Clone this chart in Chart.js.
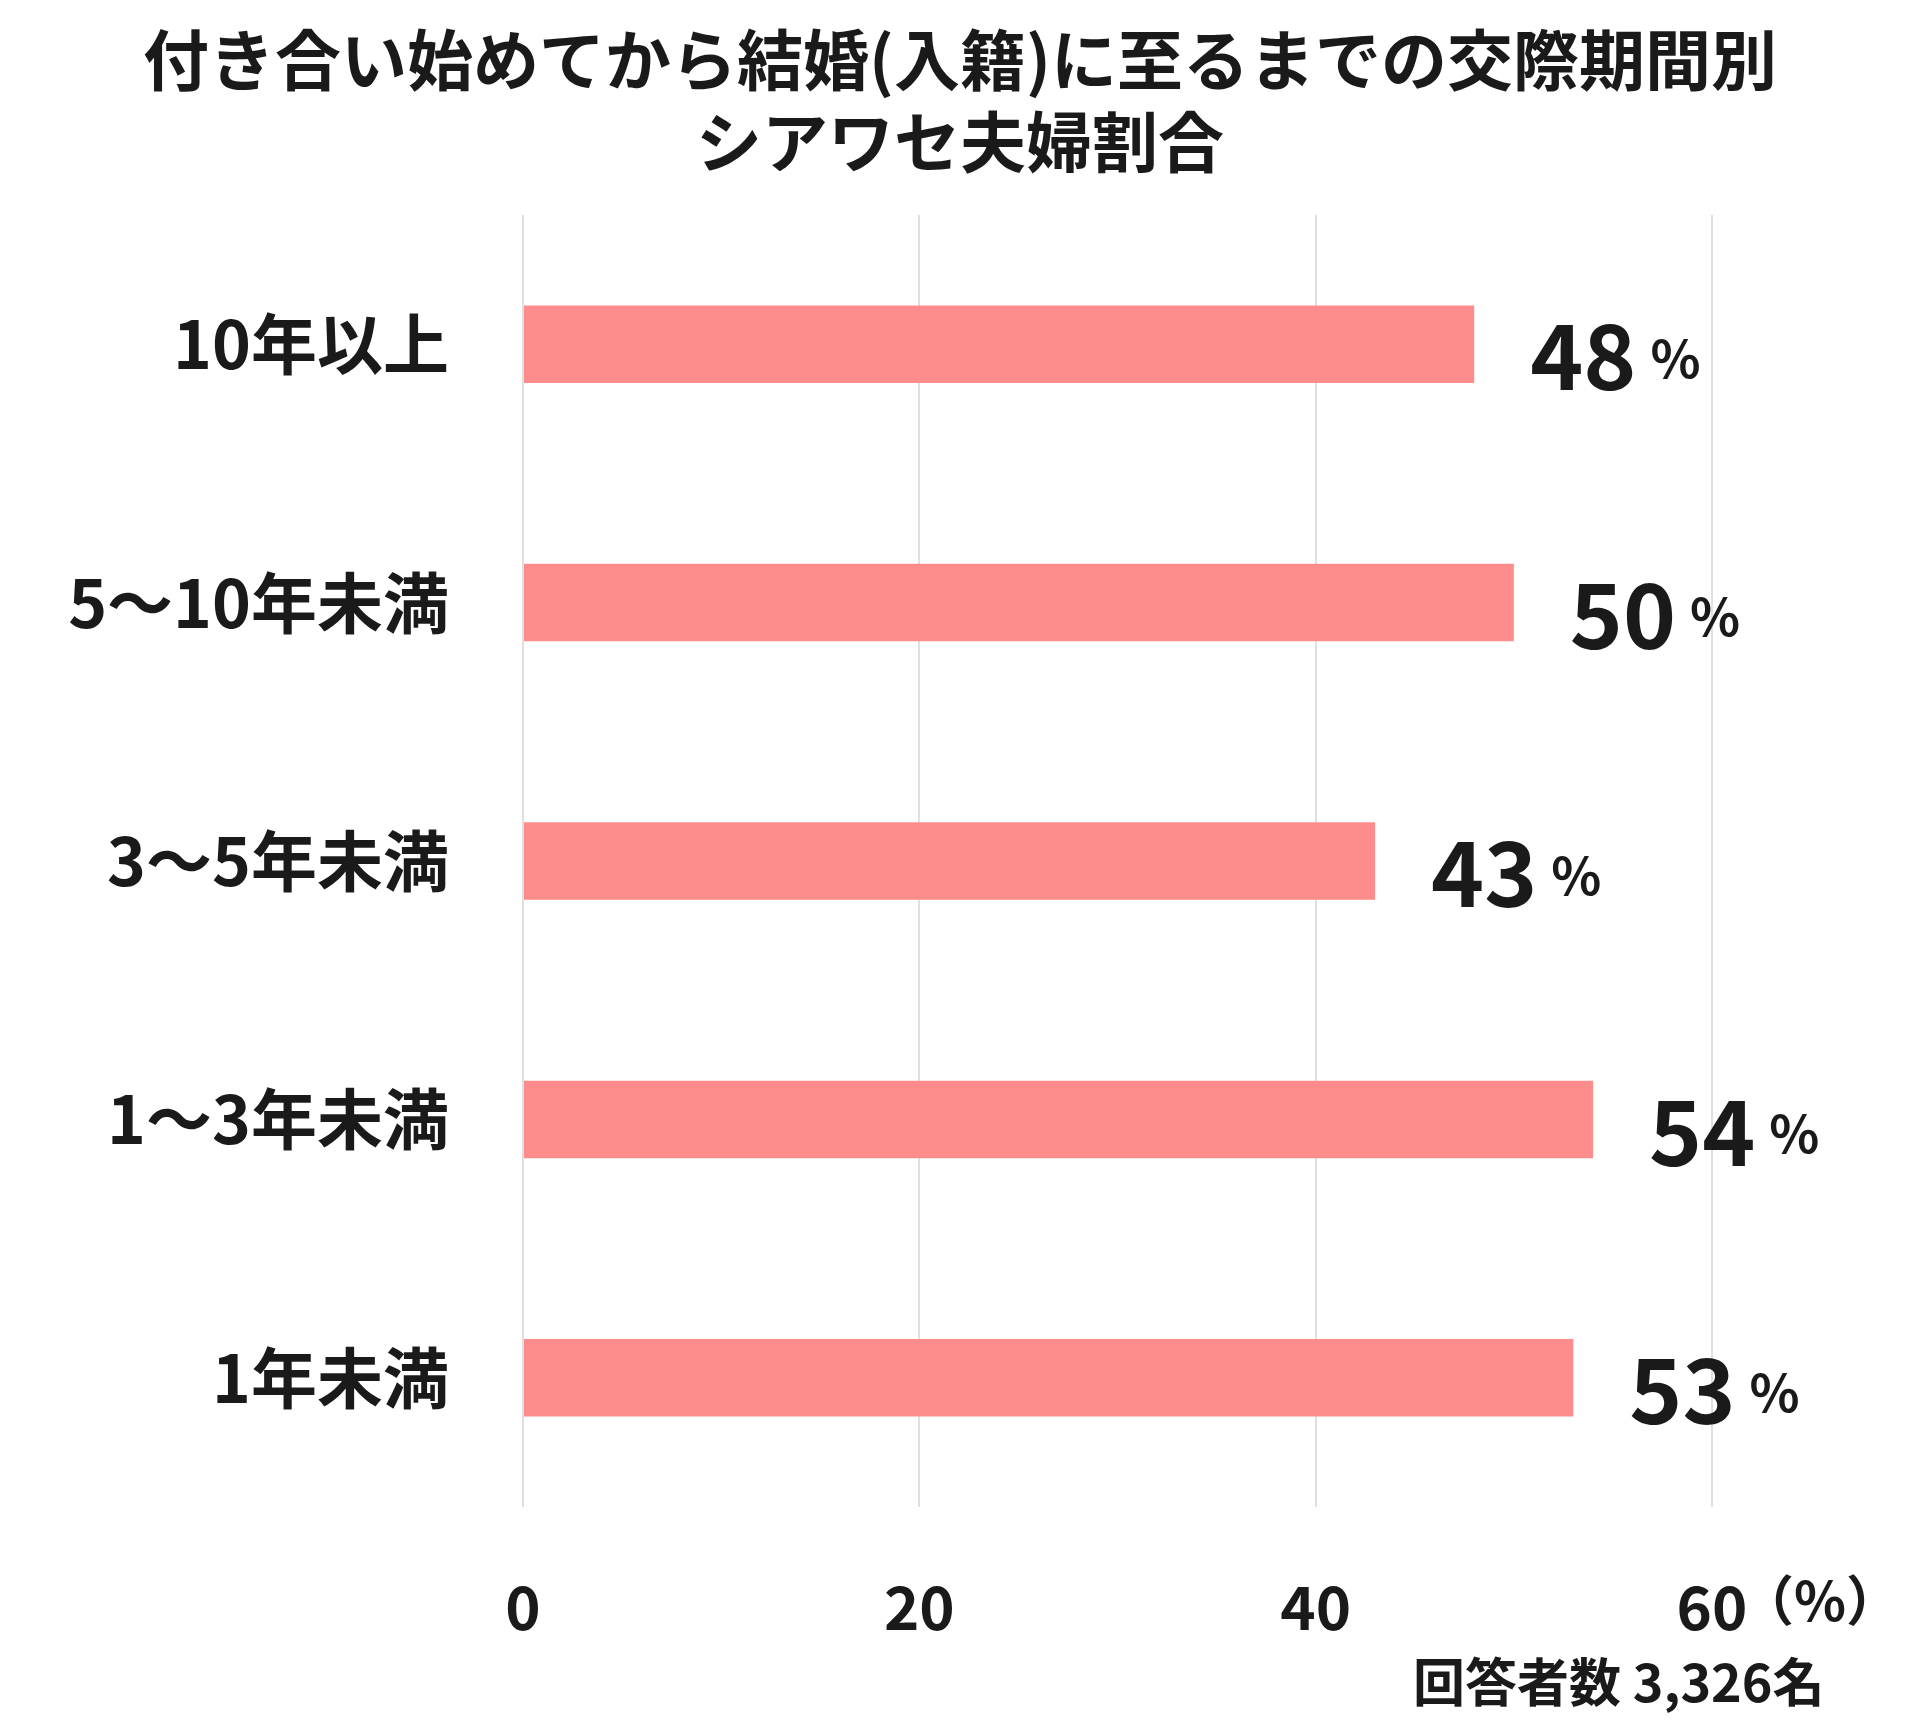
<!DOCTYPE html>
<html>
<head>
<meta charset="utf-8">
<script src="https://cdn.jsdelivr.net/npm/chart.js@4"></script>
<style>
  body { margin: 0; background: #fff; }
  #wrap { width: 1920px; height: 1720px; }
</style>
</head>
<body>
<div id="wrap"><canvas id="kpiChart" width="1920" height="1720"></canvas></div>
<script>
const categories = ['10年以上', '5～10年未満', '3～5年未満', '1～3年未満', '1年未満'];
const values = [48, 50, 43, 54, 53];
const xTicks = [0, 20, 40, 60];
const titleLines = ['付き合い始めてから結婚(入籍)に至るまでの交際期間別', 'シアワセ夫婦割合'];
const footnote = '回答者数 3,326名';

const FONT = '"Noto Sans CJK JP", "Noto Sans", sans-serif';
const barColor = '#FF8C8C';

/* extra text: title, value labels, unit, footnote */
const extras = {
  id: 'extras',
  afterDraw(chart) {
    const c = chart.ctx;
    const x = chart.scales.x;
    c.save();
    c.fillStyle = '#1a1a1a';
    c.textAlign = 'center';
    c.textBaseline = 'middle';
    c.font = 'bold 66px ' + FONT;
    c.fillText(titleLines[0], 960, 60);
    c.fillText(titleLines[1], 960, 142);

    chart.getDatasetMeta(0).data.forEach((bar, i) => {
      const px = x.getPixelForValue(values[i]) + 56;
      const py = bar.y + 12;
      c.textAlign = 'left';
      c.font = 'bold 90px ' + FONT;
      const s = String(values[i]);
      c.fillText(s, px, py);
      const w = c.measureText(s).width;
      c.font = 'bold 52px ' + FONT;
      c.fillText('%', px + w + 14, py + 2);
    });

    c.textAlign = 'left';
    c.font = 'bold 54px ' + FONT;
    c.fillText('（%）', x.getPixelForValue(60) + 28, 1600);
    c.font = 'bold 52px ' + FONT;
    c.fillText(footnote, 1413, 1682);
    c.restore();
  }
};

new Chart(document.getElementById('kpiChart').getContext('2d'), {
  type: 'bar',
  data: {
    labels: categories,
    datasets: [{
      data: values,
      backgroundColor: barColor,
      categoryPercentage: 1,
      barPercentage: 0.3
    }]
  },
  options: {
    indexAxis: 'y',
    responsive: false,
    animation: false,
    layout: { padding: { top: 215, right: 208, left: 0, bottom: 0 } },
    plugins: { legend: { display: false }, tooltip: { enabled: false } },
    scales: {
      x: {
        min: 0, max: 60,
        afterBuildTicks: s => { s.ticks = xTicks.map(v => ({ value: v })); },
        afterFit: s => { s.height = 213; },
        grid: { color: '#e0e0e0', lineWidth: 2, drawTicks: false },
        border: { display: false },
        ticks: { color: '#1a1a1a', padding: 64, font: { family: FONT, size: 60, weight: 'bold' } }
      },
      y: {
        afterFit: s => { s.width = 523; },
        grid: { display: false },
        border: { display: false },
        ticks: { color: '#1a1a1a', padding: 66, font: { family: FONT, size: 66, weight: 'bold' } }
      }
    }
  },
  plugins: [extras]
});
</script>
</body>
</html>
